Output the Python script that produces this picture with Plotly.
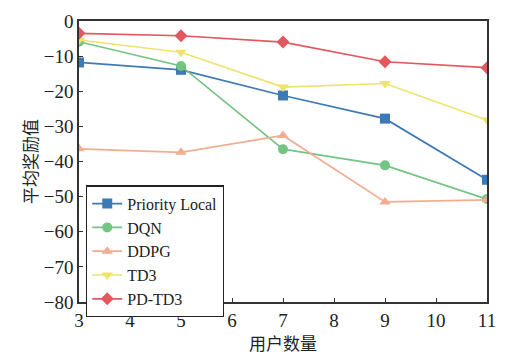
import plotly.graph_objects as go

users = [3, 5, 7, 9, 11]
priority_local = [-11.8, -13.9, -21.2, -27.8, -45.2]
dqn = [-5.9, -12.8, -36.5, -41.1, -50.7]
ddpg = [-36.4, -37.4, -32.6, -51.5, -50.9]
td3 = [-5.4, -8.9, -18.8, -17.8, -28.2]
pd_td3 = [-3.5, -4.2, -6.0, -11.6, -13.3]

series = [
    ("Priority Local", priority_local, "#3d7ab5", "square"),
    ("DQN", dqn, "#74c483", "circle"),
    ("DDPG", ddpg, "#f2ad90", "triangle-up"),
    ("TD3", td3, "#eee36b", "triangle-down"),
    ("PD-TD3", pd_td3, "#e2585e", "diamond"),
]

FONT = "Liberation Serif, Times New Roman, serif"
CJK = "Noto Sans CJK SC"

fig = go.Figure()
for name, ys, color, sym in series:
    fig.add_trace(go.Scatter(
        x=users, y=ys, name=name, mode="lines+markers",
        line=dict(color=color, width=1.7),
        marker=dict(symbol=sym, size=10, color=color),
    ))

fig.update_layout(
    width=507, height=355,
    margin=dict(l=79, r=11, t=12, b=53),
    paper_bgcolor="white", plot_bgcolor="white",
    font=dict(family=FONT, size=19, color="#222"),
    showlegend=True,
    legend=dict(
        x=0.017, y=0.415, xanchor="left", yanchor="top",
        bgcolor="white", bordercolor="#222", borderwidth=1.3,
        font=dict(family=FONT, size=16, color="#222"),
        tracegroupgap=0, itemwidth=30,
    ),
    xaxis=dict(
        range=[3, 11], tickmode="array", tickvals=list(range(3, 12)),
        ticks="inside", ticklen=4, tickcolor="#333",
        tickfont=dict(family=FONT, size=19),
        showline=True, linecolor="#333", linewidth=1.5, mirror=True,
        showgrid=False, zeroline=False,
        title=dict(text="用户数量", font=dict(family=CJK, size=17), standoff=2),
    ),
    yaxis=dict(
        range=[-80, 0], tickmode="array", tickvals=list(range(-80, 1, 10)),
        ticktext=[("−" + str(-v)) if v < 0 else str(v) for v in range(-80, 1, 10)],
        ticks="inside", ticklen=4, tickcolor="#333",
        tickfont=dict(family=FONT, size=19),
        showline=True, linecolor="#333", linewidth=1.5, mirror=True,
        showgrid=False, zeroline=False,
        title=dict(text="平均奖励值", font=dict(family=CJK, size=17), standoff=2),
    ),
)

fig.write_html("out.html")
